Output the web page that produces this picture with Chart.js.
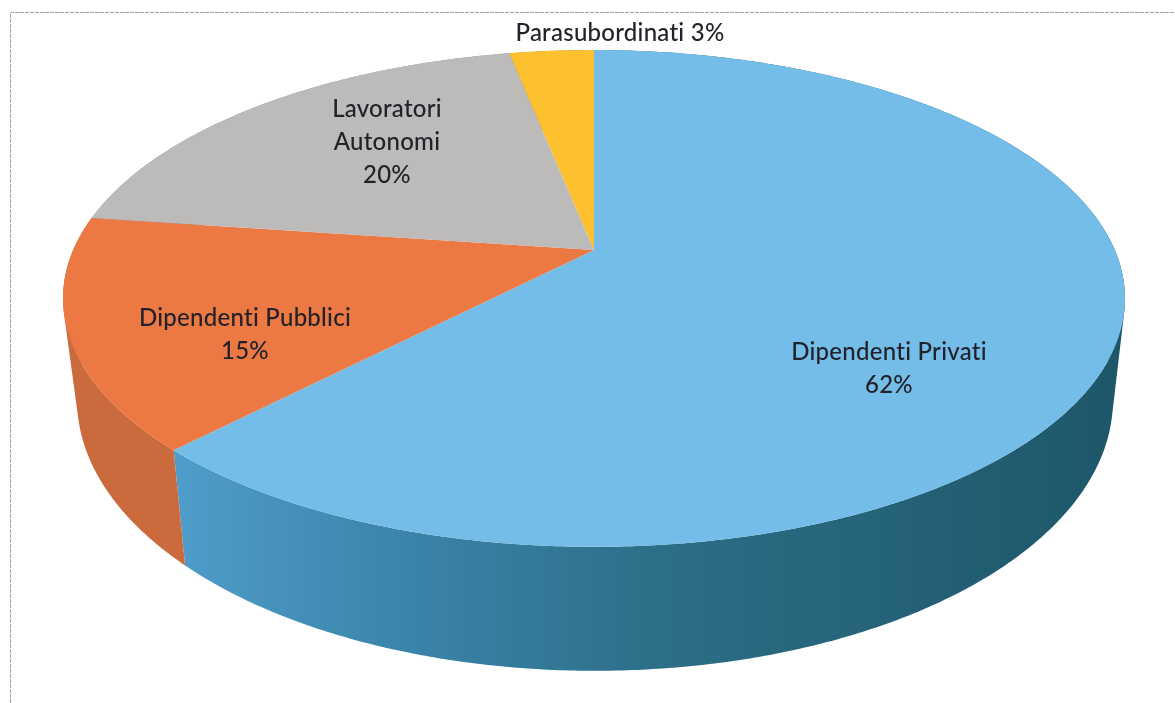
<!DOCTYPE html>
<html><head><meta charset="utf-8">
<style>html,body{margin:0;padding:0;background:#fff}canvas{display:block}</style>
<script src="https://cdn.jsdelivr.net/npm/chart.js@4"></script>
</head><body>
<canvas id="c" width="1175" height="703"></canvas>
<script>
const categories = ["Dipendenti Privati","Dipendenti Pubblici","Lavoratori Autonomi","Parasubordinati"];
const shareValues = [62.2,15.0,19.7,3.1];
const topColors = ["#74bde8","#ec7843","#bdbaba","#fdc02f"];
const sideStops = [
  ["#4f9dcb","#3a83a9","#2c6f88","#1d5668"],
  ["#cb6a3c","#c8663a","#c8663a","#c8663a"],
  ["#8f8d8c","#8f8d8c","#8f8d8c","#8f8d8c"],
  ["#bf9024","#bf9024","#bf9024","#bf9024"]
];
const labelLines = [
  ["Dipendenti Privati","62%"],
  ["Dipendenti Pubblici","15%"],
  ["Lavoratori","Autonomi","20%"],
  ["Parasubordinati 3%"]
];
const labelAnchors = [[889,352],[245,318],[387,109],[620,33]];
const labelFont = '500 24px "Lato"';
const labelPitch = 33;

// perspective projection of the pie's unit disc onto the page
const topFace = {cx:594,d:520.8,a:190.2,b:250,c:-0.195};
const bottomFace = {cx:595,d:508,a:193,b:347,c:-0.195};
function project(f,theta){
  const u=Math.sin(theta), v=-Math.cos(theta), w=1+f.c*v;
  return [f.cx+f.d*u/w,(f.a*v+f.b)/w];
}
function projectPoint(f,u,v){const w=1+f.c*v;return [f.cx+f.d*u/w,(f.a*v+f.b)/w];}

const pie3d = {
  id:'pie3d',
  beforeDatasetsDraw(chart){
    const ctx=chart.ctx, arcs=chart.getDatasetMeta(0).data;
    const spans=arcs.map(a=>[a.startAngle+Math.PI/2,a.endAngle+Math.PI/2]);
    // frame
    ctx.save();
    ctx.strokeStyle='#a2a2a2';ctx.lineWidth=1;ctx.setLineDash([4,1]);
    ctx.beginPath();ctx.moveTo(10.5,703);ctx.lineTo(10.5,12.5);ctx.lineTo(1175,12.5);ctx.stroke();
    ctx.restore();
    // sides
    spans.forEach((s,i)=>{
      const g=ctx.createLinearGradient(175,0,1125,0);
      [0,0.25,0.5,1].forEach((p,j)=>g.addColorStop(p,sideStops[i][j]));
      ctx.fillStyle=g;
      ctx.beginPath();
      const n=Math.max(4,Math.ceil((s[1]-s[0])*120));
      for(let k=0;k<n;k++){
        const t0=s[0]+(s[1]-s[0])*k/n,t1=s[0]+(s[1]-s[0])*(k+1)/n;
        let q=[project(topFace,t0),project(topFace,t1),project(bottomFace,t1),project(bottomFace,t0)];
        let area=0;
        q.forEach((p,j)=>{const r=q[(j+1)%4];area+=p[0]*r[1]-r[0]*p[1];});
        if(area<0)q.reverse();
        ctx.moveTo(q[0][0],q[0][1]);for(let j=1;j<4;j++)ctx.lineTo(q[j][0],q[j][1]);ctx.closePath();
      }
      ctx.fill();
    });
    // top faces
    spans.forEach((s,i)=>{
      ctx.fillStyle=topColors[i];
      ctx.beginPath();
      const c=projectPoint(topFace,0,0);
      ctx.moveTo(c[0],c[1]);
      const n=Math.max(8,Math.ceil((s[1]-s[0])*120));
      for(let k=0;k<=n;k++){const p=project(topFace,s[0]+(s[1]-s[0])*k/n);ctx.lineTo(p[0],p[1]);}
      ctx.closePath();ctx.fill();
    });
    // labels
    ctx.save();
    ctx.fillStyle='#22222a';ctx.font=labelFont;ctx.textAlign='center';ctx.textBaseline='middle';
    if('letterSpacing' in ctx)ctx.letterSpacing='0.25px';
    labelLines.forEach((ls,i)=>{ls.forEach((t,j)=>ctx.fillText(t,labelAnchors[i][0],labelAnchors[i][1]+j*labelPitch));});
    ctx.restore();
    return false;
  }
};

new Chart(document.getElementById('c'),{
  type:'pie',
  data:{labels:categories,datasets:[{data:shareValues,backgroundColor:topColors,borderWidth:0}]},
  options:{responsive:false,animation:false,events:[],
    plugins:{legend:{display:false},tooltip:{enabled:false}}},
  plugins:[pie3d]
});
</script>
</body></html>
